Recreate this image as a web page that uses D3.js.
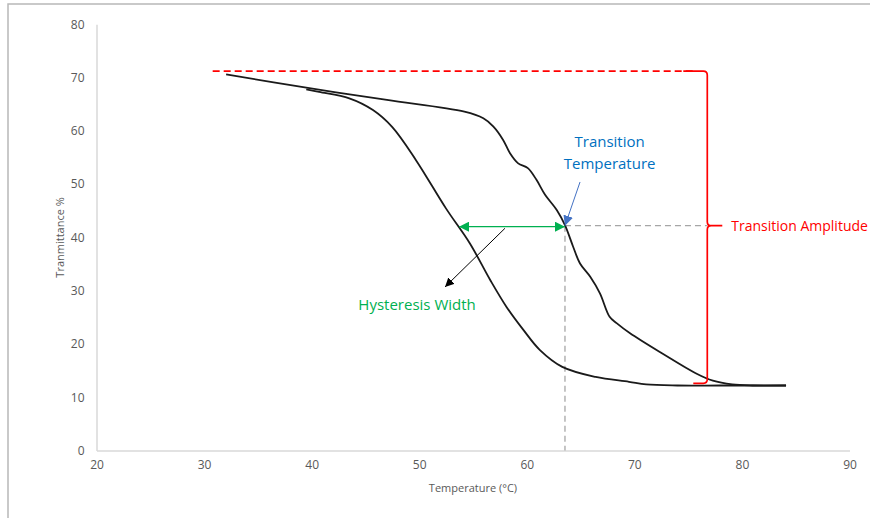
<!DOCTYPE html>
<html>
<head>
<meta charset="utf-8">
<script src="https://cdn.jsdelivr.net/npm/d3@7"></script>
<style>
  html, body { margin: 0; padding: 0; background: #fff; }
  svg { display: block; font-family: "Open Sans", "Liberation Sans", sans-serif; }
</style>
</head>
<body>
<svg id="chart" width="870" height="518"></svg>
<script>
// Heating branch (upper curve): temperature (°C) and transmittance (%)
const heatingTemp = [32.05, 39.5, 47, 54.2, 55.96, 56.9, 57.8, 58.44, 59.2, 60.1, 60.9, 61.7, 62.8, 63.55, 64.3, 64.95, 65.9, 66.8, 67.7, 68.35, 69.6, 72.6, 75.7, 77.3, 79.1, 81, 84.1];
const heatingTrans = [70.6, 68.1, 65.8, 63.6, 62.35, 60.8, 58.3, 55.8, 53.9, 53.0, 50.8, 48.0, 45.1, 42.3, 38.3, 35.1, 32.6, 29.5, 25.1, 23.9, 22.0, 18.2, 14.5, 13.1, 12.4, 12.2, 12.2];

// Cooling branch (lower curve)
const coolingTemp = [39.5, 40.7, 43.5, 45.7, 47.5, 49.7, 52.5, 54.7, 56.6, 58.1, 59.7, 61.2, 63.3, 66.4, 69.5, 71.1, 74, 78, 84.1];
const coolingTrans = [67.8, 67.3, 66.1, 63.9, 60.7, 54.5, 45.4, 38.9, 32.0, 27.0, 22.6, 18.9, 15.7, 13.8, 12.9, 12.4, 12.2, 12.2, 12.2];

// Axis ticks
const xTicks = [20, 30, 40, 50, 60, 70, 80, 90];
const yTicks = [0, 10, 20, 30, 40, 50, 60, 70, 80];

// Annotation values
const transitionTemp = 63.55;      // °C at the transition point
const transitionLevel = 42.2;      // transmittance at the transition point
const hysteresisStart = 53.7;      // left end of the hysteresis width arrow
const amplitudeTop = 71.2;         // upper level of the transition amplitude
const amplitudeBottom = 12.6;      // lower level of the transition amplitude
const amplitudeLineStart = 30.8;   // where the dashed top level begins
const bracketTemp = 76.78;         // temperature where the bracket stands

const svg = d3.select("#chart");

const x = d3.scaleLinear().domain([20, 90]).range([96.5, 849.5]);
const y = d3.scaleLinear().domain([0, 80]).range([450.5, 24.3]);

// outer frame (top and left edges)
svg.append("path")
  .attr("d", "M8,518 V4 H870")
  .attr("fill", "none").attr("stroke", "#b8b8b8").attr("stroke-width", 1.5);

const defs = svg.append("defs");
function marker(id, color, size) {
  defs.append("marker")
    .attr("id", id).attr("viewBox", "0 0 10 10")
    .attr("refX", 10).attr("refY", 5)
    .attr("markerWidth", size).attr("markerHeight", size)
    .attr("markerUnits", "userSpaceOnUse")
    .attr("orient", "auto-start-reverse")
    .append("path").attr("d", "M0,0 L10,5 L0,10 Z").attr("fill", color);
}
marker("arrGreen", "#00b050", 10);
marker("arrBlack", "#000", 9);
marker("arrBlue", "#4472c4", 10);

// axes
const xAxis = d3.axisBottom(x).tickValues(xTicks).tickSize(0).tickPadding(10);
const yAxis = d3.axisLeft(y).tickValues(yTicks).tickSize(0).tickPadding(12);

const gx = svg.append("g").attr("transform", `translate(0,${y(0)})`).call(xAxis);
const gy = svg.append("g").attr("transform", `translate(${x(20)},0)`).call(yAxis);
[gx, gy].forEach(g => {
  g.select(".domain").attr("stroke", "#d9d9d9").attr("stroke-width", 1.5);
  g.selectAll("text").attr("fill", "#595959").attr("font-size", 12)
    .attr("font-family", "'Open Sans', sans-serif");
});

svg.append("text")
  .attr("x", (x(20) + x(90)) / 2).attr("y", 492)
  .attr("text-anchor", "middle").attr("fill", "#595959").attr("font-size", 11)
  .text("Temperature (°C)");

svg.append("text")
  .attr("transform", `translate(64,${(y(0) + y(80)) / 2}) rotate(-90)`)
  .attr("text-anchor", "middle").attr("fill", "#595959").attr("font-size", 11)
  .text("Tranmittance %");

// guide lines at the transition point
const gray = svg.append("g").attr("stroke", "#a6a6a6").attr("stroke-width", 1.3)
  .attr("stroke-dasharray", "6,4").attr("fill", "none");
gray.append("line")
  .attr("x1", x(transitionTemp)).attr("x2", x(transitionTemp))
  .attr("y1", y(transitionLevel)).attr("y2", y(0));
gray.append("line")
  .attr("x1", x(transitionTemp)).attr("x2", x(bracketTemp))
  .attr("y1", y(transitionLevel)).attr("y2", y(transitionLevel));

// amplitude top level
svg.append("line")
  .attr("x1", x(amplitudeLineStart)).attr("x2", x(bracketTemp) - 12)
  .attr("y1", y(amplitudeTop)).attr("y2", y(amplitudeTop))
  .attr("stroke", "#ff0000").attr("stroke-width", 1.7).attr("stroke-dasharray", "7,4");

// curves
const line = d3.line().x(d => x(d[0])).y(d => y(d[1])).curve(d3.curveCatmullRom.alpha(0.5));
const heating = heatingTemp.map((t, i) => [t, heatingTrans[i]]);
const cooling = coolingTemp.map((t, i) => [t, coolingTrans[i]]);
svg.append("path").datum(cooling).attr("d", line)
  .attr("fill", "none").attr("stroke", "#1a1a1a").attr("stroke-width", 1.8);
svg.append("path").datum(heating).attr("d", line)
  .attr("fill", "none").attr("stroke", "#1a1a1a").attr("stroke-width", 1.8);

// amplitude bracket
{
  const bx = x(bracketTemp), top = y(amplitudeTop), bot = y(amplitudeBottom), mid = y(transitionLevel);
  const r = 4;
  const d = [
    `M${bx - 24},${top}`, `H${bx - r}`, `Q${bx},${top} ${bx},${top + r}`,
    `V${mid - r}`, `Q${bx},${mid} ${bx + r},${mid}`, `H${bx + 15}`,
    `M${bx + r},${mid}`, `Q${bx},${mid} ${bx},${mid + r}`,
    `V${bot - r}`, `Q${bx},${bot} ${bx - r},${bot}`, `H${bx - 14}`
  ].join(" ");
  svg.append("path").attr("d", d).attr("fill", "none")
    .attr("stroke", "#ff0000").attr("stroke-width", 1.7);
  svg.append("text")
    .attr("x", bx + 24).attr("y", mid).attr("dy", "0.35em")
    .attr("fill", "#ff0000").attr("font-size", 14)
    .text("Transition Amplitude");
}

// hysteresis width double arrow
svg.append("line")
  .attr("x1", x(hysteresisStart)).attr("x2", x(transitionTemp))
  .attr("y1", y(transitionLevel) + 1).attr("y2", y(transitionLevel) + 1)
  .attr("stroke", "#00b050").attr("stroke-width", 1.3)
  .attr("marker-start", "url(#arrGreen)").attr("marker-end", "url(#arrGreen)");

// pointer to the hysteresis label
svg.append("line")
  .attr("x1", x(57.97)).attr("y1", y(41.7))
  .attr("x2", x(52.4)).attr("y2", y(30.7))
  .attr("stroke", "#000").attr("stroke-width", 1)
  .attr("marker-end", "url(#arrBlack)");

svg.append("text")
  .attr("x", x(49.8)).attr("y", y(27.3)).attr("dy", "0.35em")
  .attr("text-anchor", "middle").attr("fill", "#00b050").attr("font-size", 15)
  .text("Hysteresis Width");

// pointer to the transition temperature
svg.append("line")
  .attr("x1", x(64.95)).attr("y1", y(50.4))
  .attr("x2", x(transitionTemp)).attr("y2", y(transitionLevel))
  .attr("stroke", "#4472c4").attr("stroke-width", 1)
  .attr("marker-end", "url(#arrBlue)");

const tt = svg.append("text")
  .attr("text-anchor", "middle").attr("fill", "#0070c0").attr("font-size", 15);
tt.append("tspan").attr("x", x(67.7)).attr("y", y(57.9)).attr("dy", "0.35em").text("Transition");
tt.append("tspan").attr("x", x(67.7)).attr("y", y(53.9)).attr("dy", "0.35em").text("Temperature");
</script>
</body>
</html>
